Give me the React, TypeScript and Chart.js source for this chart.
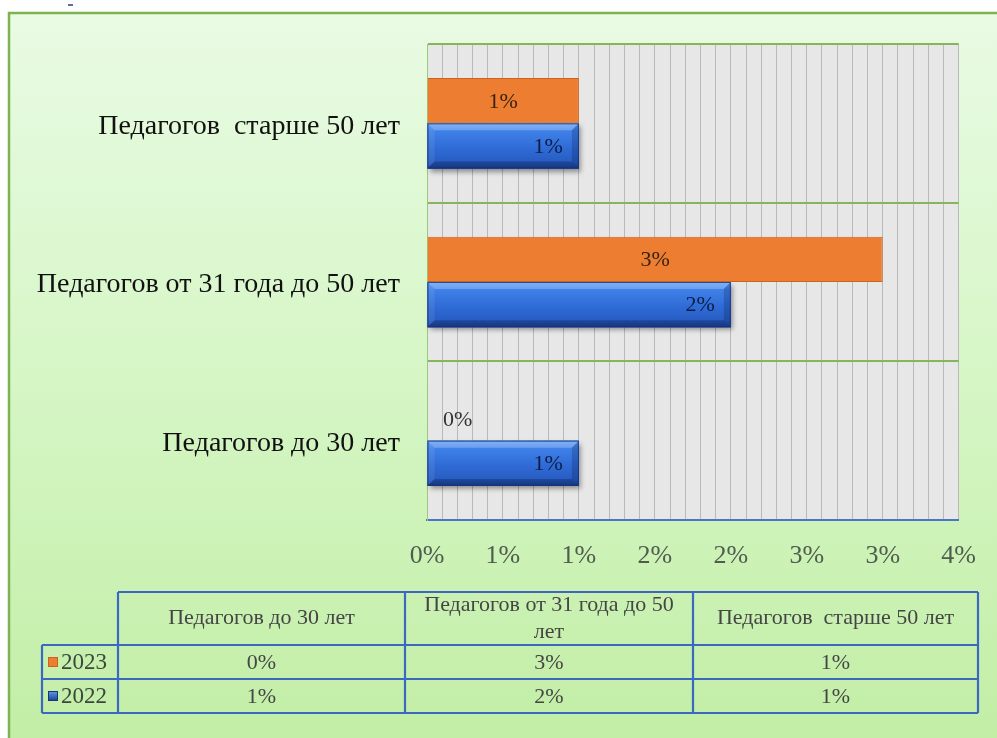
import React, { useEffect, useRef } from "react";
import { Chart, registerables } from "chart.js";

Chart.register(...registerables);

const categories = ["Педагогов до 30 лет", "Педагогов от 31 года до 50 лет", "Педагогов  старше 50 лет"];
const seriesNames = ["2023", "2022"];
const values2023 = [0, 3, 1];
const values2022 = [1, 2, 1];
const tickLabels = ["0%", "1%", "1%", "2%", "2%", "3%", "3%", "4%"];
const valueLabels2023 = ["0%", "3%", "1%"];
const valueLabels2022 = ["1%", "2%", "1%"];

const SERIF = "'Liberation Serif', 'Times New Roman', serif";
const ORANGE = "#ed7d31";
const BLUE = "#2f6bd3";
const TABLE_BLUE = "#3d68c2";

function barRect(el: any) {
  const p = el.getProps(["x", "y", "base", "height"], true);
  const L = Math.min(p.x, p.base);
  const R = Math.max(p.x, p.base);
  const T = p.y - p.height / 2;
  const B = p.y + p.height / 2;
  return { L, R, T, B, y: p.y };
}

function wrap(ctx: CanvasRenderingContext2D, text: string, maxW: number): string[] {
  const words = text.split(" ");
  const lines: string[] = [];
  let cur = "";
  for (const w of words) {
    const test = cur === "" ? w : cur + " " + w;
    if (ctx.measureText(test).width > maxW && cur !== "") {
      lines.push(cur);
      cur = w;
    } else cur = test;
  }
  if (cur) lines.push(cur);
  return lines;
}

const decorPlugin = {
  id: "decor",
  beforeDraw(chart: any) {
    const ctx: CanvasRenderingContext2D = chart.ctx;
    const W = chart.width, H = chart.height;
    ctx.save();
    ctx.fillStyle = "#ffffff";
    ctx.fillRect(0, 0, W, H);
    const g = ctx.createLinearGradient(0, 13, 0, H);
    g.addColorStop(0, "#e9fbe4");
    g.addColorStop(0.5, "#d6f6c6");
    g.addColorStop(1, "#c2eea6");
    ctx.fillStyle = g;
    ctx.fillRect(9, 13, W - 9, H - 13);
    ctx.strokeStyle = "#7cb452";
    ctx.lineWidth = 2.5;
    ctx.beginPath();
    ctx.moveTo(9, H);
    ctx.lineTo(9, 13);
    ctx.lineTo(W, 13);
    ctx.stroke();
    ctx.strokeStyle = "#2a3f70";
    ctx.lineWidth = 1.5;
    ctx.beginPath();
    ctx.moveTo(68, 5);
    ctx.lineTo(73, 5);
    ctx.stroke();
    const a = chart.chartArea;
    ctx.fillStyle = "#e7e7e7";
    ctx.fillRect(a.left, a.top, a.right - a.left, a.bottom - a.top);
    ctx.restore();
  },
  beforeDatasetDraw(chart: any, args: any) {
    if (args.index !== 1) return;
    const ctx: CanvasRenderingContext2D = chart.ctx;
    const meta = chart.getDatasetMeta(1);
    ctx.save();
    meta.data.forEach((el: any) => {
      const r = barRect(el);
      if (r.R - r.L < 1) return;
      ctx.shadowColor = "rgba(0,0,0,0.4)";
      ctx.shadowBlur = 5;
      ctx.shadowOffsetX = 2;
      ctx.shadowOffsetY = 3;
      ctx.fillStyle = "#1d3f88";
      ctx.fillRect(r.L, r.T, r.R - r.L, r.B - r.T);
    });
    ctx.restore();
  },
  afterDatasetDraw(chart: any, args: any) {
    if (args.index !== 1) return;
    const ctx: CanvasRenderingContext2D = chart.ctx;
    const meta = chart.getDatasetMeta(1);
    ctx.save();
    meta.data.forEach((el: any) => {
      const { L, R, T, B } = barRect(el);
      if (R - L < 1) return;
      const g = ctx.createLinearGradient(0, T, 0, B);
      g.addColorStop(0, "#5c9cf2");
      g.addColorStop(0.18, "#3f80e8");
      g.addColorStop(0.55, "#2f6bd6");
      g.addColorStop(0.85, "#285dc2");
      g.addColorStop(1, "#1f4596");
      ctx.fillStyle = g;
      ctx.fillRect(L, T, R - L, B - T);
      const b = 7;
      const poly = (pts: number[][], color: string) => {
        ctx.beginPath();
        ctx.moveTo(pts[0][0], pts[0][1]);
        for (let i = 1; i < pts.length; i++) ctx.lineTo(pts[i][0], pts[i][1]);
        ctx.closePath();
        ctx.fillStyle = color;
        ctx.fill();
      };
      poly([[L, T], [R, T], [R - b, T + b], [L + b, T + b]], "rgba(255,255,255,0.22)");
      poly([[L, B], [R, B], [R - b, B - b], [L + b, B - b]], "rgba(0,10,50,0.25)");
      poly([[R, T], [R, B], [R - b, B - b], [R - b, T + b]], "rgba(0,10,50,0.2)");
      poly([[L, T], [L, B], [L + b, B - b], [L + b, T + b]], "rgba(255,255,255,0.08)");
      ctx.strokeStyle = "rgba(20,50,120,0.8)";
      ctx.lineWidth = 1;
      ctx.strokeRect(L + 0.5, T + 0.5, R - L - 1, B - T - 1);
    });
    ctx.restore();
  },
  afterDatasetsDraw(chart: any) {
    const ctx: CanvasRenderingContext2D = chart.ctx;
    ctx.save();
    ctx.textBaseline = "middle";
    ctx.font = `22px ${SERIF}`;
    const n = categories.length;
    chart.getDatasetMeta(0).data.forEach((el: any, i: number) => {
      const r = barRect(el);
      const label = valueLabels2023[n - 1 - i];
      if (r.R - r.L < 2) {
        ctx.fillStyle = "#333333";
        ctx.textAlign = "left";
        ctx.fillText(label, r.L + 16, r.y + 2);
      } else {
        ctx.fillStyle = "#3a2210";
        ctx.textAlign = "center";
        ctx.fillText(label, (r.L + r.R) / 2, r.y + 1);
      }
    });
    chart.getDatasetMeta(1).data.forEach((el: any, i: number) => {
      const r = barRect(el);
      const label = valueLabels2022[n - 1 - i];
      ctx.fillStyle = "#0c1d45";
      ctx.textAlign = "right";
      ctx.fillText(label, r.R - 16, r.y + 1);
    });
    ctx.restore();
  },
  afterDraw(chart: any) {
    const ctx: CanvasRenderingContext2D = chart.ctx;
    ctx.save();
    const colX = [118, 405, 693, 978];
    const legL = 42;
    const rowY = [592, 645, 679, 713];
    ctx.strokeStyle = TABLE_BLUE;
    ctx.lineWidth = 2.2;
    ctx.beginPath();
    ctx.moveTo(colX[0], rowY[0]);
    ctx.lineTo(colX[3], rowY[0]);
    for (let r = 1; r < rowY.length; r++) {
      ctx.moveTo(legL, rowY[r]);
      ctx.lineTo(colX[3], rowY[r]);
    }
    ctx.moveTo(legL, rowY[1]);
    ctx.lineTo(legL, rowY[3]);
    for (let c = 0; c < colX.length; c++) {
      ctx.moveTo(colX[c], rowY[0]);
      ctx.lineTo(colX[c], rowY[3]);
    }
    ctx.stroke();

    ctx.fillStyle = "#454545";
    ctx.textAlign = "center";
    ctx.textBaseline = "middle";
    ctx.font = `22px ${SERIF}`;
    categories.forEach((cat, i) => {
      const x0 = colX[i], x1 = colX[i + 1];
      const lines = wrap(ctx, cat, x1 - x0 - 10);
      const lh = 27;
      const cy = (rowY[0] + rowY[1]) / 2;
      lines.forEach((ln, k) => {
        ctx.fillText(ln, (x0 + x1) / 2, cy + (k - (lines.length - 1) / 2) * lh);
      });
      ctx.fillText(valueLabels2023[i], (x0 + x1) / 2, (rowY[1] + rowY[2]) / 2 + 1);
      ctx.fillText(valueLabels2022[i], (x0 + x1) / 2, (rowY[2] + rowY[3]) / 2 + 1);
    });
    const keys = [
      { name: seriesNames[0], row: 1, color: ORANGE },
      { name: seriesNames[1], row: 2, color: BLUE },
    ];
    keys.forEach((k) => {
      const cy = (rowY[k.row] + rowY[k.row + 1]) / 2;
      const kx = 48, ks = 10;
      if (k.color === BLUE) {
        const g = ctx.createLinearGradient(0, cy - ks / 2, 0, cy + ks / 2);
        g.addColorStop(0, "#5c9cf2");
        g.addColorStop(1, "#1b3f8c");
        ctx.fillStyle = g;
      } else ctx.fillStyle = k.color;
      ctx.fillRect(kx, cy - ks / 2, ks, ks);
      ctx.strokeStyle = k.color === BLUE ? "#1a3570" : "#c8641f";
      ctx.lineWidth = 1;
      ctx.strokeRect(kx + 0.5, cy - ks / 2 + 0.5, ks - 1, ks - 1);
      ctx.fillStyle = "#3c463c";
      ctx.textAlign = "left";
      ctx.font = `23px ${SERIF}`;
      ctx.fillText(k.name, 61, cy + 1);
    });
    ctx.restore();
  },
};

export default function App() {
  const ref = useRef<HTMLCanvasElement | null>(null);
  useEffect(() => {
    if (!ref.current) return;
    const displayCats = [...categories].reverse();
    const chart = new Chart(ref.current, {
      type: "bar",
      data: {
        labels: displayCats,
        datasets: [
          {
            label: seriesNames[0],
            data: [...values2023].reverse(),
            backgroundColor: ORANGE,
            borderColor: "#c8641f",
            borderWidth: 1,
            barPercentage: 1,
            categoryPercentage: 0.57,
          },
          {
            label: seriesNames[1],
            data: [...values2022].reverse(),
            backgroundColor: BLUE,
            borderWidth: 0,
            barPercentage: 1,
            categoryPercentage: 0.57,
          },
        ],
      },
      options: {
        indexAxis: "y",
        animation: false,
        responsive: false,
        maintainAspectRatio: false,
        layout: { padding: { left: 0, right: 36, top: 44, bottom: 0 } },
        plugins: {
          legend: { display: false },
          tooltip: { enabled: false },
        },
        scales: {
          x: {
            min: 0,
            max: 3.5,
            afterFit: (s: any) => {
              s.height = 218;
            },
            grid: { color: "#b9b9b9", lineWidth: 1, drawTicks: false },
            border: { color: "#4a76c8", width: 2 },
            ticks: {
              stepSize: 0.1,
              autoSkip: false,
              maxRotation: 0,
              padding: 21,
              color: "#4f5d4f",
              font: { family: SERIF, size: 26 },
              callback: (_v: any, index: number) => (index % 5 === 0 ? tickLabels[index / 5] : ""),
            },
          },
          y: {
            afterFit: (s: any) => {
              s.width = 427;
            },
            grid: { color: "#85b65a", lineWidth: 2, drawTicks: false, offset: true },
            border: { color: "#9cc87a", width: 1 },
            ticks: {
              padding: 27,
              labelOffset: 3,
              color: "#111111",
              font: { family: SERIF, size: 28 },
            },
          },
        },
      },
      plugins: [decorPlugin],
    } as any);
    return () => chart.destroy();
  }, []);
  return (
    <div style={{ position: "fixed", left: 0, top: 0, width: 997, height: 738 }}>
      <canvas ref={ref} width={997} height={738} style={{ width: 997, height: 738, display: "block" }} />
    </div>
  );
}
